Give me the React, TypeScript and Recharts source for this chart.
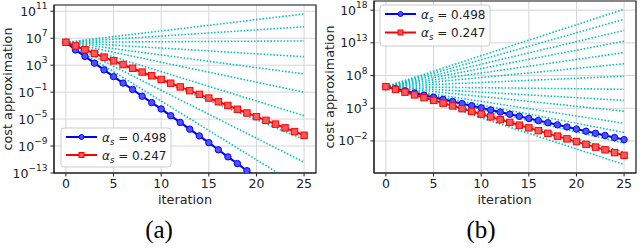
import React from 'react';
import { LineChart, Line, XAxis, YAxis, CartesianGrid, ReferenceArea } from 'recharts';

const iterations = [0, 1, 2, 3, 4, 5, 6, 7, 8, 9, 10, 11, 12, 13, 14, 15, 16, 17, 18, 19, 20, 21, 22, 23, 24, 25];
const xTicks = [0, 5, 10, 15, 20, 25];

// Panel (a)
const blueA = [2.5e6, 1.8e5, 2.0e4, 2.0e3, 2.0e2, 20, 2.2, 0.25, 0.025, 2.8e-3, 3.2e-4, 3.2e-5, 3.2e-6, 3.2e-7, 3.2e-8, 3.2e-9, 2.8e-10, 2.5e-11, 2.5e-12, 2.2e-13, 2e-14, 2e-15, 2e-16, 2e-17, 2e-18, 2e-19];
const redA = [2.5e6, 7.1e5, 2.0e5, 5.5e4, 1.55e4, 4.4e3, 1.23e3, 347, 95, 27, 7.6, 2.1, 0.6, 0.166, 0.047, 0.0132, 3.7e-3, 1.05e-3, 2.9e-4, 8.1e-5, 2.3e-5, 6.5e-6, 1.8e-6, 5.0e-7, 1.4e-7, 4.0e-8];
const fanStartA = 2.5e6;
const fanEndA = [4e10, 5e8, 4e6, 1.8e4, 50, 0.1, 3.2e-5, 1e-8, 4e-12, 4e-16, 2.5e-19];
const yTicksA = [1e-13, 1e-9, 1e-5, 1e-1, 1e3, 1e7, 1e11];
const yDomainA = [1e-13, 8.5e11];

// Panel (b)
const blueB = [2.0e6, 9.5e5, 4.5e5, 2.1e5, 1.0e5, 4.8e4, 2.3e4, 1.08e4, 5.1e3, 2.4e3, 1.15e3, 545, 258, 122, 58, 27.5, 13, 6.2, 2.9, 1.39, 0.66, 0.31, 0.149, 0.07, 0.033, 0.016];
const redB = [2.0e6, 7.6e5, 2.9e5, 1.1e5, 4.2e4, 1.6e4, 6.0e3, 2.3e3, 870, 330, 126, 48, 18, 6.9, 2.6, 1.0, 0.38, 0.145, 0.055, 0.021, 7.9e-3, 3.0e-3, 1.15e-3, 4.4e-4, 1.66e-4, 6.3e-5];
const fanStartB = 2.0e6;
const fanEndB = [1.4e18, 4e16, 8e14, 1.8e13, 3.2e11, 6.3e9, 8e7, 8e5, 1.6e4, 355, 5, 0.2, 4.5e-3, 2e-4, 3.2e-5, 2.5e-6];
const yTicksB = [1e-2, 1e3, 1e8, 1e13, 1e18];
const yDomainB = [1.26e-7, 2.5e19];

const legendLabels = ['0.498', '0.247'];

const FONT = 'DejaVu Sans, sans-serif';
const CYAN = '#00bfbf';

const toPts = (vals: number[]) => vals.map((v, i) => ({ x: iterations[i], y: v }));

function PowTick(props: any) {
  const { x, y, payload } = props;
  const e = Math.round(Math.log10(payload.value));
  const es = e < 0 ? '\u2212' + Math.abs(e) : String(e);
  return (
    <text x={x} y={y + 4.5} textAnchor="end" fontSize={12.5} fontFamily={FONT} fill="#222">
      <tspan>10</tspan>
      <tspan dy={-6.5} fontSize={9}>{es}</tspan>
    </text>
  );
}

const blueDot = (p: any) => (
  <circle key={'b' + p.index} cx={p.cx} cy={p.cy} r={3.2} fill="#5050ff" stroke="#0000ff" strokeWidth={1} />
);
const redDot = (p: any) => (
  <rect key={'r' + p.index} x={p.cx - 3.2} y={p.cy - 3.2} width={6.4} height={6.4} fill="#ff5a5a" stroke="#ff0000" strokeWidth={1} />
);

function Panel(props: any) {
  const { blue, red, fanStart, fanEnds, yDomain, yTicks, marginTop } = props;
  const fans = fanEnds.map((e: number) => [{ x: 0, y: fanStart }, { x: 25, y: e }]);
  return (
    <LineChart width={320} height={249} margin={{ top: marginTop, right: 4, bottom: 46, left: 0 }}>
      <CartesianGrid stroke="#d6d6d6" strokeWidth={1} />
      <XAxis
        type="number"
        dataKey="x"
        domain={[-1.25, 26.25]}
        allowDataOverflow
        ticks={xTicks}
        tickSize={3.5}
        tickMargin={3}
        height={30}
        stroke="#222"
        tick={{ fill: '#222', fontSize: 12.5, fontFamily: FONT }}
      />
      <YAxis
        type="number"
        scale="log"
        domain={yDomain}
        allowDataOverflow
        ticks={yTicks}
        width={54}
        tickSize={3.5}
        tickMargin={3}
        stroke="#222"
        tick={<PowTick />}
      />
      <ReferenceArea x1={-1.25} x2={26.25} y1={yDomain[0]} y2={yDomain[1]} fill="none" stroke="#222" strokeWidth={1.2} ifOverflow="visible" />
      {fans.map((d: any, i: number) => (
        <Line key={'f' + i} data={d} dataKey="y" stroke={CYAN} strokeWidth={1.6} strokeDasharray="1.5 1.8" dot={false} isAnimationActive={false} />
      ))}
      <Line data={toPts(blue)} dataKey="y" stroke="#0000ff" strokeWidth={2} dot={blueDot} isAnimationActive={false} />
      <Line data={toPts(red)} dataKey="y" stroke="#ff0000" strokeWidth={2} dot={redDot} isAnimationActive={false} />
    </LineChart>
  );
}

function LegendBox({ x, y, w, h, rowGap }: any) {
  const rows = [0, 1];
  return (
    <g>
      <rect x={x} y={y} width={w} height={h} rx={3} fill="#ffffff" fillOpacity={0.85} stroke="#cccccc" strokeWidth={1} />
      {rows.map((r) => {
        const cy = y + 9 + r * rowGap;
        const lx1 = x + 5;
        const lx2 = x + 36;
        const mx = (lx1 + lx2) / 2;
        return (
          <g key={r}>
            <line x1={lx1} y1={cy} x2={lx2} y2={cy} stroke={r === 0 ? '#0000ff' : '#ff0000'} strokeWidth={2} />
            {r === 0 ? (
              <circle cx={mx} cy={cy} r={2.5} fill="#5050ff" stroke="#0000ff" />
            ) : (
              <rect x={mx - 2.5} y={cy - 2.5} width={5} height={5} fill="#ff5a5a" stroke="#ff0000" />
            )}
            <text x={x + 41} y={cy + 4.5} fontSize={12} fontFamily={FONT} fill="#222">
              <tspan fontStyle="italic">α</tspan>
              <tspan fontStyle="italic" fontSize={8.5} dy={3}>s</tspan>
              <tspan dy={-3}> = {legendLabels[r]}</tspan>
            </text>
          </g>
        );
      })}
    </g>
  );
}

export default function App() {
  return (
    <div style={{ position: 'absolute', left: 0, top: 0, width: 640, height: 249, background: '#fff', overflow: 'hidden' }}>
      <div style={{ position: 'absolute', left: 0, top: 0 }}>
        <Panel blue={blueA} red={redA} fanStart={fanStartA} fanEnds={fanEndA} yDomain={yDomainA} yTicks={yTicksA} marginTop={5} />
      </div>
      <div style={{ position: 'absolute', left: 320, top: 0 }}>
        <Panel blue={blueB} red={redB} fanStart={fanStartB} fanEnds={fanEndB} yDomain={yDomainB} yTicks={yTicksB} marginTop={1} />
      </div>
      <svg width={640} height={249} style={{ position: 'absolute', left: 0, top: 0, pointerEvents: 'none' }}>
        <LegendBox x={61} y={128} w={110} h={39} rowGap={18} />
        <LegendBox x={380} y={5} w={110} h={41} rowGap={18.5} />
        <text x={7.5} y={89} transform="rotate(-90, 7.5, 89)" textAnchor="middle" dominantBaseline="central" fontSize={12.8} fontFamily={FONT} fill="#222">cost approximation</text>
        <text x={329.5} y={87} transform="rotate(-90, 329.5, 87)" textAnchor="middle" dominantBaseline="central" fontSize={12.8} fontFamily={FONT} fill="#222">cost approximation</text>
        <text x={185} y={203.5} textAnchor="middle" fontSize={12.8} fontFamily={FONT} fill="#222">iteration</text>
        <text x={504.5} y={203.5} textAnchor="middle" fontSize={12.8} fontFamily={FONT} fill="#222">iteration</text>
        <text x={159} y={238} textAnchor="middle" fontSize={25} fontFamily="Liberation Serif, serif" fill="#000">(a)</text>
        <text x={481} y={238} textAnchor="middle" fontSize={25} fontFamily="Liberation Serif, serif" fill="#000">(b)</text>
      </svg>
    </div>
  );
}
